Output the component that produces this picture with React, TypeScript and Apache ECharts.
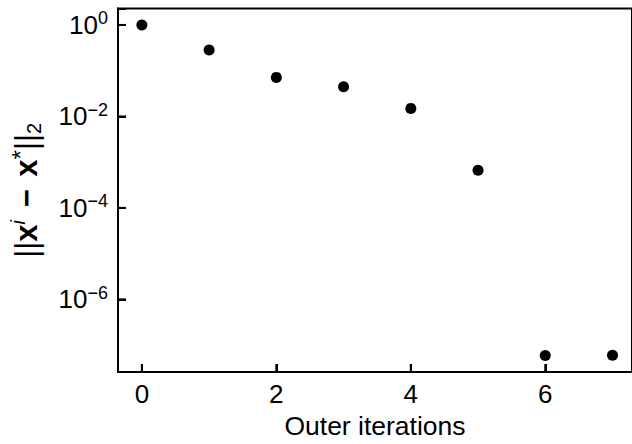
import React, { useEffect, useRef } from "react";
import * as echarts from "echarts";

const iterations = [0, 1, 2, 3, 4, 5, 6, 7];
const errors = [1.0, 0.285, 0.0714, 0.0445, 0.015, 6.67e-4, 5.95e-8, 6.0e-8];
const xTickValues = [0, 2, 4, 6];
const yTickValues = [1, 1e-2, 1e-4, 1e-6];
const xName = "Outer iterations";
const yNameParts = ["||", "x", "i", " − ", "x", "*", "||", "2"];

const FONT = "'Liberation Sans', Arial, Helvetica, sans-serif";
const TICK_LEN = 8;

export default function App() {
  const ref = useRef<HTMLDivElement>(null);
  useEffect(() => {
    const chart = echarts.init(ref.current!, null, { renderer: "svg" });
    const xMin = -0.355;
    const xMax = 7.29;
    const yMin = 2.57e-8;
    const yMax = 2.29;
    const [p0, p1, p2, p3, p4, p5, p6, p7] = yNameParts;
    const yName =
      `{n|${p0}}{b|${p1}}{sup|${p2}}{m|${p3}}{b|${p4}}{star|${p5}}{n|${p6}}{sub|${p7}}`;
    const tickOnly = {
      axisLine: { show: false, onZero: false },
      axisTick: { show: true, inside: false, length: TICK_LEN, lineStyle: { color: "#000", width: 2 } },
      axisLabel: { show: false },
      splitLine: { show: false },
      minorTick: { show: false },
    };
    chart.setOption({
      animation: false,
      grid: {
        left: 118,
        right: -3,
        top: 8.5,
        bottom: 65.5,
        show: true,
        borderColor: "#000",
        borderWidth: 2,
        backgroundColor: "transparent",
      },
      xAxis: [
        {
          type: "value",
          min: xMin,
          max: xMax,
          splitNumber: 4,
          axisLine: { show: true, onZero: false, lineStyle: { color: "#000", width: 2 } },
          axisTick: { show: false },
          axisLabel: {
            showMinLabel: false,
            showMaxLabel: false,
            margin: 9,
            color: "#000",
            fontSize: 26,
            fontFamily: FONT,
          },
          splitLine: { show: false },
          name: xName,
          nameLocation: "middle",
          nameGap: 39,
          nameTextStyle: { color: "#000", fontSize: 26.5, fontFamily: FONT },
        },
        {
          type: "value",
          position: "bottom",
          offset: -TICK_LEN,
          min: xMin,
          max: xMax,
          splitNumber: 4,
          ...tickOnly,
        },
      ],
      yAxis: [
        {
          type: "log",
          logBase: 100,
          min: yMin,
          max: yMax,
          axisLine: { show: true, onZero: false, lineStyle: { color: "#000", width: 2 } },
          axisTick: { show: false },
          splitLine: { show: false },
          minorTick: { show: false },
          axisLabel: {
            showMinLabel: false,
            showMaxLabel: false,
            margin: 10,
            formatter: (v: number) => {
              const e = Math.round(Math.log10(v));
              const s = e < 0 ? "−" + Math.abs(e) : String(e);
              return `{b|10}{s|${s}}`;
            },
            rich: {
              b: { fontSize: 26, lineHeight: 31, color: "#000", fontFamily: FONT },
              s: { fontSize: 18, lineHeight: 18, verticalAlign: "top", color: "#000", fontFamily: FONT },
            },
          },
          name: yName,
          nameLocation: "middle",
          nameGap: 74,
          nameTextStyle: {
            rich: {
              n: { fontSize: 31, lineHeight: 36, color: "#000", fontFamily: FONT },
              b: { fontSize: 31, lineHeight: 36, fontWeight: "bold", color: "#000", fontFamily: FONT },
              m: { fontSize: 31, lineHeight: 36, fontWeight: "bold", color: "#000", fontFamily: FONT, padding: [0, 4] },
              sup: { fontSize: 20, lineHeight: 20, fontStyle: "italic", verticalAlign: "top", color: "#000", fontFamily: FONT },
              star: { fontSize: 24, lineHeight: 24, verticalAlign: "top", color: "#000", fontFamily: FONT },
              sub: { fontSize: 20, lineHeight: 20, verticalAlign: "bottom", color: "#000", fontFamily: FONT },
            },
          },
        },
        {
          type: "log",
          logBase: 100,
          position: "left",
          offset: -TICK_LEN,
          min: yMin,
          max: yMax,
          ...tickOnly,
        },
      ],
      series: [
        {
          type: "scatter",
          silent: true,
          clip: false,
          data: xTickValues.map((v) => [v, yMin]),
          symbol: "rect",
          symbolSize: [2, TICK_LEN],
          symbolOffset: [0, -TICK_LEN / 2],
          itemStyle: { color: "#000", opacity: 1 },
        },
        {
          type: "scatter",
          silent: true,
          clip: false,
          data: yTickValues.map((v) => [xMin, v]),
          symbol: "rect",
          symbolSize: [TICK_LEN, 2],
          symbolOffset: [TICK_LEN / 2, 0],
          itemStyle: { color: "#000", opacity: 1 },
        },
        {
          type: "scatter",
          data: iterations.map((x, i) => [x, errors[i]]),
          symbol: "circle",
          symbolSize: 11,
          itemStyle: { color: "#000", opacity: 1 },
        },
      ],
    });
    return () => chart.dispose();
  }, []);
  return (
    <div
      ref={ref}
      style={{ position: "fixed", left: 0, top: 0, width: 632, height: 444, background: "#fff" }}
    />
  );
}
